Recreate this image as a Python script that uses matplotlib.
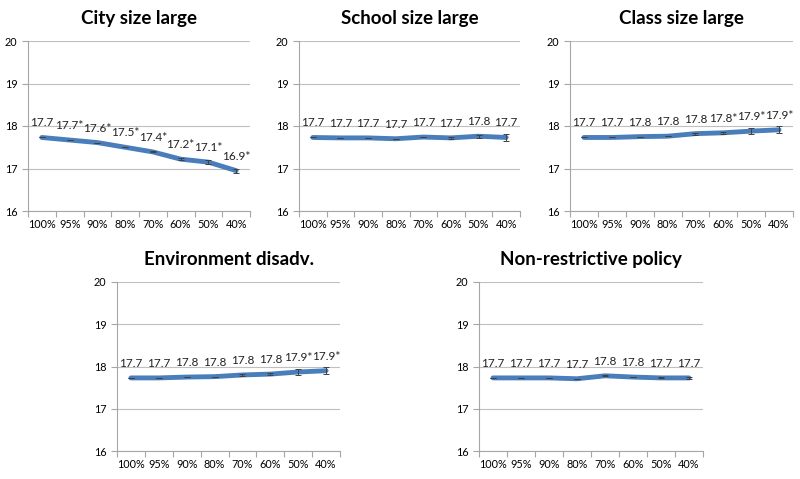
import numpy as np
from matplotlib import pyplot as plt

plt.rcParams['font.family'] = ['Lato', 'DejaVu Sans']

categories = ['100%', '95%', '90%', '80%', '70%', '60%', '50%', '40%']

titles = ['City size large', 'School size large', 'Class size large',
          'Environment disadv.', 'Non-restrictive policy']

city = [17.73, 17.67, 17.61, 17.50, 17.39, 17.22, 17.15, 16.95]
city_err = [0.0, 0.0, 0.0, 0.0, 0.01, 0.02, 0.04, 0.05]
city_lab = ['17.7', '17.7*', '17.6*', '17.5*', '17.4*', '17.2*', '17.1*', '16.9*']

school = [17.73, 17.72, 17.72, 17.70, 17.74, 17.72, 17.76, 17.73]
school_err = [0.0, 0.0, 0.0, 0.0, 0.01, 0.03, 0.04, 0.08]
school_lab = ['17.7', '17.7', '17.7', '17.7', '17.7', '17.7', '17.8', '17.7']

klass = [17.73, 17.73, 17.75, 17.76, 17.82, 17.84, 17.88, 17.91]
klass_err = [0.0, 0.0, 0.0, 0.0, 0.02, 0.02, 0.07, 0.08]
klass_lab = ['17.7', '17.7', '17.8', '17.8', '17.8', '17.8*', '17.9*', '17.9*']

env = [17.73, 17.73, 17.75, 17.76, 17.80, 17.82, 17.87, 17.90]
env_err = [0.0, 0.0, 0.0, 0.0, 0.02, 0.02, 0.06, 0.08]
env_lab = ['17.7', '17.7', '17.8', '17.8', '17.8', '17.8', '17.9*', '17.9*']

nonres = [17.73, 17.73, 17.73, 17.71, 17.78, 17.75, 17.73, 17.73]
nonres_err = [0.0, 0.0, 0.0, 0.0, 0.01, 0.01, 0.01, 0.02]
nonres_lab = ['17.7', '17.7', '17.7', '17.7', '17.8', '17.8', '17.7', '17.7']

series = [(city, city_err, city_lab), (school, school_err, school_lab),
          (klass, klass_err, klass_lab), (env, env_err, env_lab),
          (nonres, nonres_err, nonres_lab)]

W, H = 800, 479
# axes boxes in pixels: left, top, right, bottom
boxes = [(28, 41, 250, 211), (299, 41, 520, 211), (570, 41, 793, 211),
         (117, 282, 340, 451), (479, 282, 703, 451)]

fig = plt.figure(figsize=(8, 4.79), dpi=100)
blue = '#4A7EBB'
grey = '#A6A6A6'

for (l, t, r, b), title, (vals, errs, labs) in zip(boxes, titles, series):
    ax = fig.add_axes([l / W, 1 - b / H, (r - l) / W, (b - t) / H])
    x = np.arange(len(categories))
    ax.plot(x, vals, color=blue, lw=3.5, solid_capstyle='round', zorder=3)
    ax.errorbar(x, vals, yerr=errs, fmt='none', ecolor='#404040', elinewidth=0.7,
                capsize=2, capthick=0.7, zorder=4)
    for xi, v, s in zip(x, vals, labs):
        ax.annotate(s, (xi, v), xytext=(0, 6.5), textcoords='offset points',
                    ha='center', va='bottom', fontsize=8.5, color='#222222')
    ax.set_xlim(-0.5, len(categories) - 0.5)
    ax.set_ylim(16, 20)
    ax.set_yticks([16, 17, 18, 19, 20])
    ax.set_xticks(x)
    ax.set_xticklabels(categories)
    ax.set_xticks(np.arange(-0.5, len(categories)), minor=True)
    ax.tick_params(axis='x', which='major', length=0, labelsize=7.8, pad=6)
    ax.tick_params(axis='x', which='minor', length=4, color=grey, width=0.8)
    ax.tick_params(axis='y', length=4, color=grey, width=0.8, labelsize=7.8)
    ax.grid(axis='y', color='#BFBFBF', lw=0.8)
    ax.set_axisbelow(True)
    for side in ['top', 'right']:
        ax.spines[side].set_visible(False)
    for side in ['left', 'bottom']:
        ax.spines[side].set_color(grey)
        ax.spines[side].set_linewidth(0.8)
    ax.set_title(title, fontsize=13.5, fontweight='bold', pad=12)

fig.savefig('out.png', dpi=100)
